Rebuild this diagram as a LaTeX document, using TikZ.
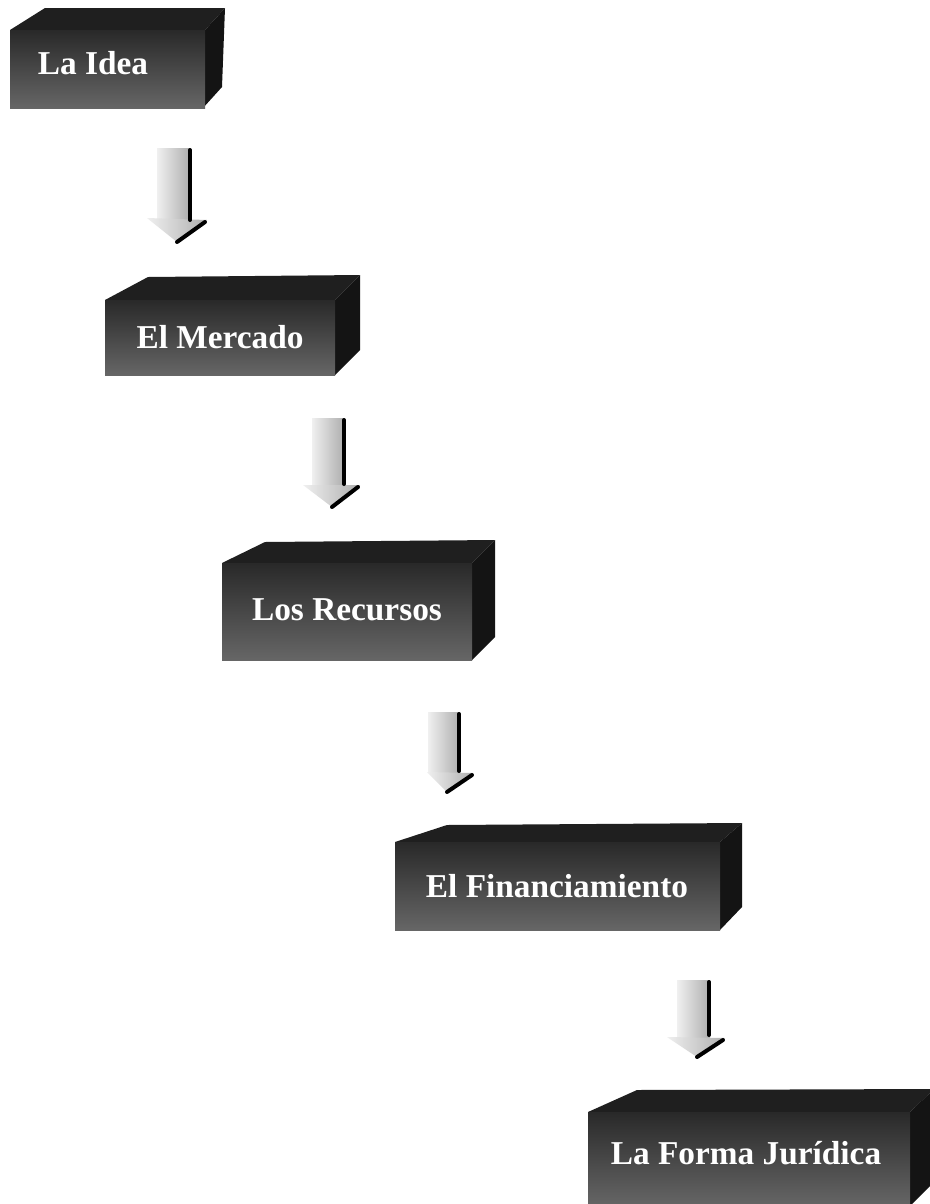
\documentclass[tikz,border=0pt]{standalone}
\usepackage{fontspec}
\setmainfont{Liberation Serif}
\begin{document}
\begin{tikzpicture}[x=0.75pt,y=-0.75pt,
  frontface/.style={top color=black!84,bottom color=black!60,draw=none},
  topface/.style={fill=black!88,draw=none},
  sideface/.style={fill=black!92,draw=none},
  boxlabel/.style={text=white,font=\bfseries\fontsize{25}{29}\selectfont,inner sep=0pt},
  shaftface/.style={left color=black!6,right color=black!32,draw=none},
  darkedge/.style={draw=black,line width=3pt,line cap=round}]
\useasboundingbox (0,0) rectangle (930,1204);
\clip (0,0) rectangle (930,1204);
\fill[white] (0,0) rectangle (930,1204);

% ---- Box 1: La Idea
\path[topface] (10,30) -- (45,8) -- (225,8) -- (205,30) -- cycle;
\path[sideface] (205,30) -- (225,8) -- (222,87) -- (203,108) -- cycle;
\path[frontface] (10,30) rectangle (205,108);
\node[boxlabel] (idea) at (93,63) {La Idea};

% ---- Box 2: El Mercado
\path[topface] (105,300) -- (148,277) -- (360,275) -- (335,300) -- cycle;
\path[sideface] (335,300) -- (360,275) -- (360,350) -- (335,375) -- cycle;
\path[frontface] (105,300) rectangle (335,375);
\node[boxlabel] (mercado) at (220,337) {El Mercado};

% ---- Box 3: Los Recursos
\path[topface] (222,563) -- (265,542) -- (495,540) -- (472,563) -- cycle;
\path[sideface] (472,563) -- (495,540) -- (495,637) -- (472,660) -- cycle;
\path[frontface] (222,563) rectangle (472,660);
\node[boxlabel] (recursos) at (347,610) {Los Recursos};

% ---- Box 4: El Financiamiento
\path[topface] (395,842) -- (447,825) -- (742,823) -- (720,842) -- cycle;
\path[sideface] (720,842) -- (742,823) -- (742,907) -- (720,930) -- cycle;
\path[frontface] (395,842) rectangle (720,930);
\node[boxlabel] (financiamiento) at (557,886) {El Financiamiento};

% ---- Box 5: La Forma Juridica
\path[topface] (588,1112) -- (637,1090) -- (934,1089) -- (910,1112) -- cycle;
\path[sideface] (910,1112) -- (934,1089) -- (934,1182) -- (910,1206) -- cycle;
\path[frontface] (588,1112) rectangle (910,1206);
\node[boxlabel] (forma) at (746,1153) {La Forma Jurídica};

% ---- Arrows (3D block arrows)
% arrow 1
\path[shaftface] (157,148) rectangle (190,220);
\path[shaftface] (147,218) -- (207,220) -- (177,242) -- cycle;
\draw[darkedge] (190,150) -- (190,220);
\draw[darkedge] (205,222) -- (177,242);
% arrow 2
\path[shaftface] (312,418) rectangle (344,485);
\path[shaftface] (303,485) -- (360,485) -- (332,507) -- cycle;
\draw[darkedge] (344,420) -- (344,484);
\draw[darkedge] (358,487) -- (332,507);
% arrow 3
\path[shaftface] (428,712) rectangle (460,772);
\path[shaftface] (427,772) -- (473,773) -- (447,792) -- cycle;
\draw[darkedge] (459,714) -- (459,771);
\draw[darkedge] (472,775) -- (447,792);
% arrow 4
\path[shaftface] (677,980) rectangle (710,1037);
\path[shaftface] (667,1037) -- (725,1038) -- (697,1057) -- cycle;
\draw[darkedge] (709,982) -- (709,1035);
\draw[darkedge] (723,1040) -- (697,1057);
\end{tikzpicture}
\end{document}
